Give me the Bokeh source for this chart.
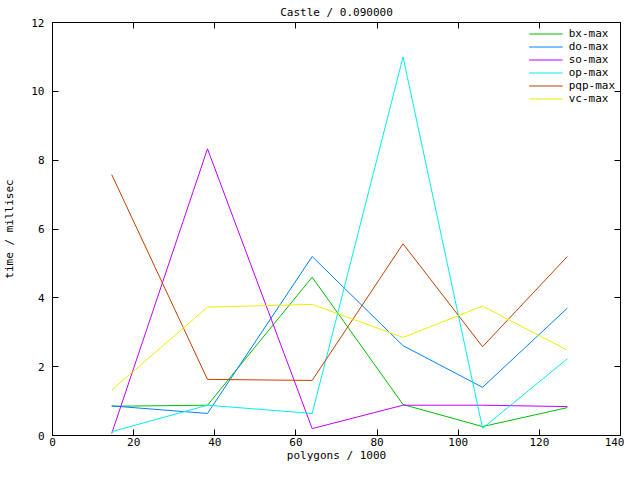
from bokeh.plotting import figure
from bokeh.models import LinearAxis, FixedTicker, Legend, LegendItem, Range1d, CustomLabelingPolicy
from bokeh.embed import file_html
from bokeh.resources import INLINE

polygons = [14.6, 38.2, 64.0, 86.4, 106.0, 126.9]
bx_max = [0.85, 0.88, 4.60, 0.90, 0.26, 0.81]
do_max = [0.86, 0.64, 5.20, 2.61, 1.40, 3.70]
so_max = [0.06, 8.33, 0.20, 0.88, 0.88, 0.84]
op_max = [0.11, 0.88, 0.64, 11.00, 0.21, 2.23]
pqp_max = [7.58, 1.63, 1.60, 5.57, 2.58, 5.20]
vc_max = [1.32, 3.73, 3.81, 2.85, 3.76, 2.48]

series_names = ["bx-max", "do-max", "so-max", "op-max", "pqp-max", "vc-max"]
series_values = [bx_max, do_max, so_max, op_max, pqp_max, vc_max]
colors = ["#00c000", "#0080ff", "#c000ff", "#00eeee", "#c04000", "#eeee00"]
x_ticks = [0, 20, 40, 60, 80, 100, 120, 140]
y_ticks = [0, 2, 4, 6, 8, 10, 12]

FONT = "DejaVu Sans Mono"
FS = "11px"

p = figure(width=624, height=464, output_backend="svg", toolbar_location=None,
           x_range=Range1d(0, 140), y_range=Range1d(0, 12),
           min_border_left=52, min_border_right=2, min_border_top=22, min_border_bottom=20)
p.title.text = "Castle / 0.090000"
p.title.align = "center"
p.title.text_font = FONT
p.title.text_font_size = FS
p.title.text_font_style = "normal"
p.title.text_color = "black"
p.title.standoff = 0
p.grid.visible = False
p.outline_line_color = "black"
p.outline_line_width = 1
p.background_fill_color = "white"
p.border_fill_color = "white"

for ax in [p.xaxis[0], p.yaxis[0]]:
    ax.major_tick_in = 6
    ax.major_tick_out = 0
    ax.minor_tick_in = 0
    ax.minor_tick_out = 0
    ax.axis_line_color = "black"
    ax.major_tick_line_color = "black"
    ax.major_label_text_font = FONT
    ax.major_label_text_font_size = FS
    ax.major_label_text_color = "black"
    ax.axis_label_text_font = FONT
    ax.axis_label_text_font_size = FS
    ax.axis_label_text_font_style = "normal"
    ax.axis_label_text_color = "black"
p.xaxis[0].ticker = FixedTicker(ticks=x_ticks)
p.yaxis[0].ticker = FixedTicker(ticks=y_ticks)
p.xaxis[0].axis_label = "polygons / 1000"
p.yaxis[0].axis_label = "time / millisec"
p.xaxis[0].major_label_standoff = 2
p.xaxis[0].axis_label_standoff = 0
p.yaxis[0].major_label_standoff = 8
p.yaxis[0].axis_label_standoff = 12

no_labels = CustomLabelingPolicy(code="for (const i of indices) indices.unset(i); return indices")
for side, ticks in (("above", x_ticks), ("right", y_ticks)):
    ax = LinearAxis(ticker=FixedTicker(ticks=ticks), major_tick_in=6, major_tick_out=0,
                    minor_tick_in=0, minor_tick_out=0, major_label_policy=no_labels,
                    major_label_text_font_size="1px", major_label_standoff=0,
                    axis_label_standoff=0, axis_line_color="black",
                    major_tick_line_color="black")
    p.add_layout(ax, side)

items = []
for name, vals, c in zip(series_names, series_values, colors):
    r = p.line(polygons, vals, line_color=c, line_width=1)
    items.append(LegendItem(label=name, renderers=[r]))

legend = Legend(items=items, location="top_right", border_line_alpha=0,
                background_fill_alpha=0, label_text_font=FONT, label_text_font_size=FS,
                label_text_color="black",
                glyph_width=34, glyph_height=13, label_height=13, spacing=-1,
                padding=0, margin=5, label_standoff=6)
p.add_layout(legend)

open("out.html", "w").write(file_html(p, INLINE))
